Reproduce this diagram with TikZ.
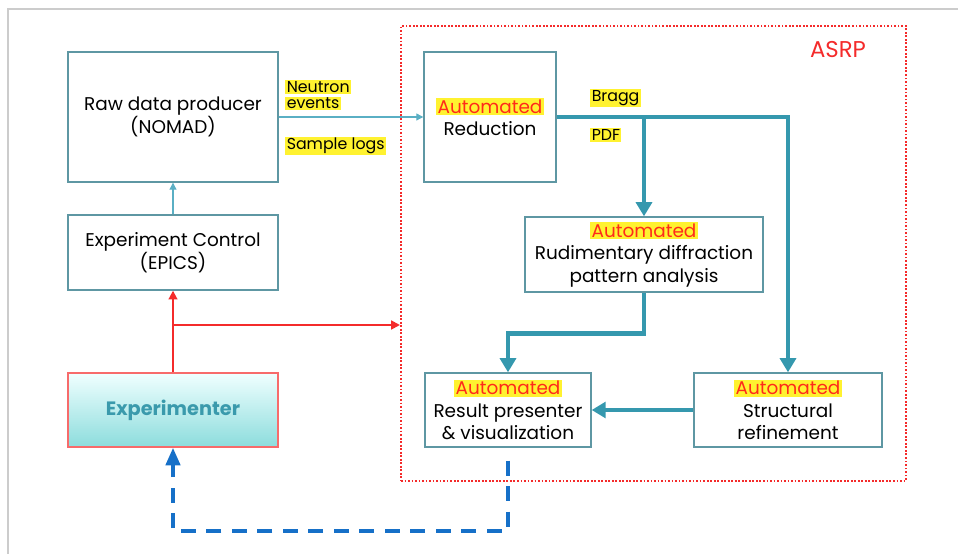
\documentclass[tikz,border=0pt]{standalone}
\usepackage{fontspec}
\setmainfont{Poppins}
\usetikzlibrary{arrows.meta}

\definecolor{boxline}{HTML}{5E97A3}
\definecolor{flowteal}{HTML}{3598AE}
\definecolor{thinteal}{HTML}{5AAFC4}
\definecolor{hiyellow}{HTML}{FFF230}
\definecolor{autored}{HTML}{FF2A1A}
\definecolor{ctlred}{HTML}{F42B2B}
\definecolor{fbblue}{HTML}{1670C8}
\definecolor{exptext}{HTML}{3A9AAC}

\newcommand{\hilite}[1]{{\setlength{\fboxsep}{0.8pt}\colorbox{hiyellow}{#1}}}
\newcommand{\autotag}{\hilite{\textcolor{autored}{Automated}}}

\tikzset{
  stagebox/.style={draw=boxline, line width=0.8pt, align=center, inner sep=2pt,
    font=\fontsize{10.5}{12.8}\selectfont},
  tag/.style={anchor=west, align=left, inner sep=0pt, font=\fontsize{9}{11}\selectfont},
  flow/.style={draw=flowteal, line width=2.8pt, -{Triangle[length=8pt,width=9pt]}},
  thinflow/.style={draw=thinteal, line width=0.6pt, -{Triangle[length=4pt,width=4pt]}},
  ctlflow/.style={draw=ctlred, line width=1.1pt, -{Triangle[length=5pt,width=5pt]}},
  backflow/.style={draw=fbblue, line width=2.3pt, dash pattern=on 8.5pt off 6pt,
    -{Triangle[length=10pt,width=8pt]}},
}

\begin{document}
\begin{tikzpicture}[x=0.02cm, y=-0.02cm]
    \useasboundingbox (0,0) rectangle (958,554);
    % page frame
    \draw[gray!40, line width=0.9pt] (8,554) -- (8,9) -- (958,9);

    % ASRP area
    \node[draw=ctlred, line width=1.2pt, dash pattern=on 1pt off 1pt,
          minimum width=10.1cm, minimum height=9.1cm] (asrp) at (653.5,253.5) {};
    \node[text=ctlred, font=\fontsize{13}{15}\selectfont] (asrplabel) at (838,50) {ASRP};

    % left column
    \node[stagebox, minimum width=4.2cm, minimum height=2.6cm] (raw) at (173,117)
        {Raw data producer\\(NOMAD)};
    \node[stagebox, minimum width=4.2cm, minimum height=1.5cm] (ctl) at (173,252.5)
        {Experiment Control\\(EPICS)};
    \node[draw=ctlred!70, line width=0.8pt, top color=cyan!6, bottom color=cyan!40!teal!45,
          minimum width=4.2cm, minimum height=1.48cm, text=exptext,
          font=\fontsize{11}{13}\selectfont\bfseries] (exp) at (173,410) {Experimenter};

    % automated stages
    \node[stagebox, minimum width=2.64cm, minimum height=2.6cm] (red) at (490,117)
        {\autotag\\Reduction};
    \node[stagebox, minimum width=4.76cm, minimum height=1.5cm] (rud) at (644,254.5)
        {\autotag\\Rudimentary diffraction\\pattern analysis};
    \node[stagebox, minimum width=3.32cm, minimum height=1.48cm] (res) at (508,410)
        {\autotag\\Result presenter\\\& visualization};
    \node[stagebox, minimum width=3.76cm, minimum height=1.48cm] (sref) at (788,410)
        {\autotag\\Structural\\refinement};

    % data labels
    \node[tag] (neutron) at (285,95) {\hilite{Neutron}\\[-1.5pt]\hilite{events}};
    \node[tag] (logs) at (285,146) {\hilite{Sample logs}};
    \node[tag] (bragg) at (590,98) {\hilite{Bragg}};
    \node[tag] (pdf) at (590,135) {\hilite{PDF}};

    % connectors
    \draw[thinflow] (raw.east) -- (red.west);
    \draw[thinflow] (ctl.north) -- (raw.south);
    \draw[flow] (red.east) -| (sref.north);
    \draw[flow] (red.east -| rud.north) -- (rud.north);
    \draw[flow] (rud.south) -- ++(0,41) -| (res.north);
    \draw[flow] (sref.west) -- (res.east);

    \coordinate (split) at (173,325);
    \draw[ctlflow] (exp.north) -- (ctl.south);
    \draw[ctlflow] (split) -- (split -| asrp.west);

    \draw[backflow] ([yshift=-0.26cm]res.south) -- ++(0,70) -| (exp.south);
\end{tikzpicture}
\end{document}
